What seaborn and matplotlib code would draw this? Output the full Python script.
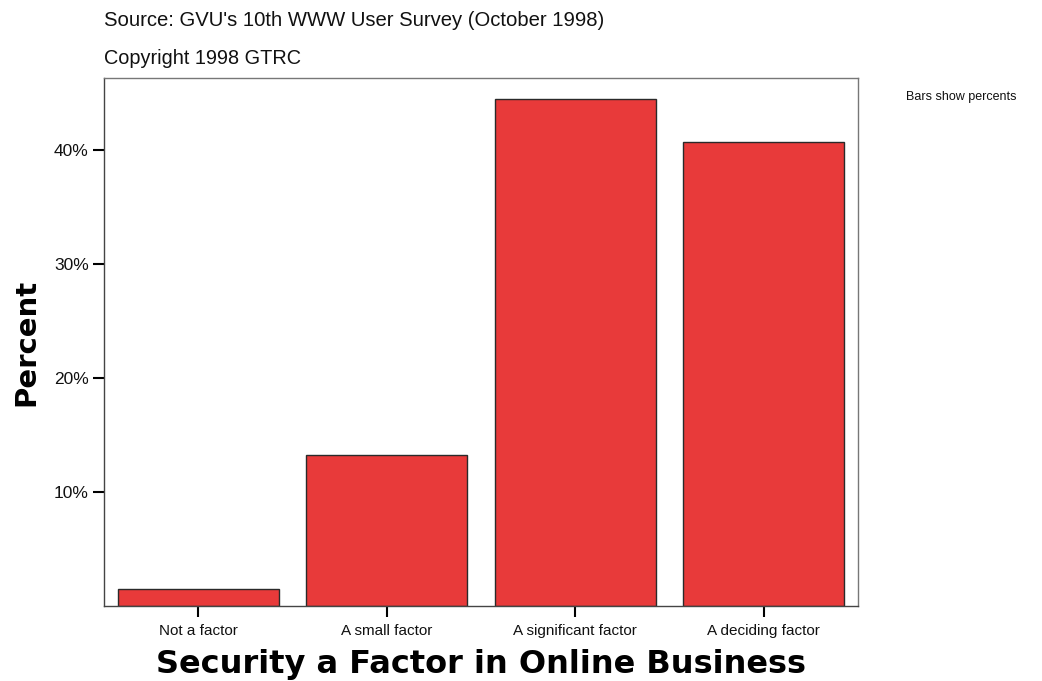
import matplotlib
matplotlib.use("Agg")
import matplotlib.pyplot as plt
import seaborn as sns
import pandas as pd

categories = ["Not a factor", "A small factor", "A significant factor", "A deciding factor"]
percents = [1.5, 13.2, 44.5, 40.7]
yticks = [10, 20, 30, 40]
ytick_labels = ["10%", "20%", "30%", "40%"]

sns.set_style("white")
plt.rcParams['font.family'] = ['Liberation Sans', 'DejaVu Sans']

df = pd.DataFrame({"cat": categories, "pct": percents})

fig = plt.figure(figsize=(10.42, 6.81), dpi=100)
ax = fig.add_axes([0.0998, 0.1101, 0.7236, 0.7754])

sns.barplot(data=df, x="cat", y="pct", order=categories, color="#E83A3A",
            saturation=1, width=0.854, edgecolor="#2a2a2a", linewidth=1.0, ax=ax)

ax.set_xlim(-0.5, 3.5)
ax.set_ylim(0, 46.3)
ax.set_yticks(yticks)
ax.set_yticklabels(ytick_labels, fontsize=12.5)
ax.tick_params(axis="y", direction="out", length=8, width=1.5, color="black", pad=3, left=True)
ax.tick_params(axis="x", direction="out", length=8, width=1.5, color="black", pad=5, bottom=True, labelsize=11)
for lbl in ax.get_xticklabels() + ax.get_yticklabels():
    lbl.set_color("#111111")

for s in ax.spines.values():
    s.set_visible(True)
    s.set_linewidth(1.0)
    s.set_color("#444444")
ax.spines["top"].set_color("#777777")
ax.spines["right"].set_color("#777777")

ax.set_xlabel("Security a Factor in Online Business", fontsize=23, fontweight="heavy",
              family=["DejaVu Sans"], labelpad=8, color="black")
ax.set_ylabel("Percent", fontsize=21, fontweight="heavy", family=["DejaVu Sans"],
              labelpad=10, color="black")

fig.text(104/1042, 1 - 20/681, "Source: GVU's 10th WWW User Survey (October 1998)",
         fontsize=14.6, va="center", ha="left", color="#111111")
fig.text(104/1042, 1 - 59/681, "Copyright 1998 GTRC",
         fontsize=14.3, va="center", ha="left", color="#111111")
fig.text(906/1042, 1 - 97/681, "Bars show percents",
         fontsize=9, va="center", ha="left", color="#111111")

fig.savefig("out.png", dpi=100)
